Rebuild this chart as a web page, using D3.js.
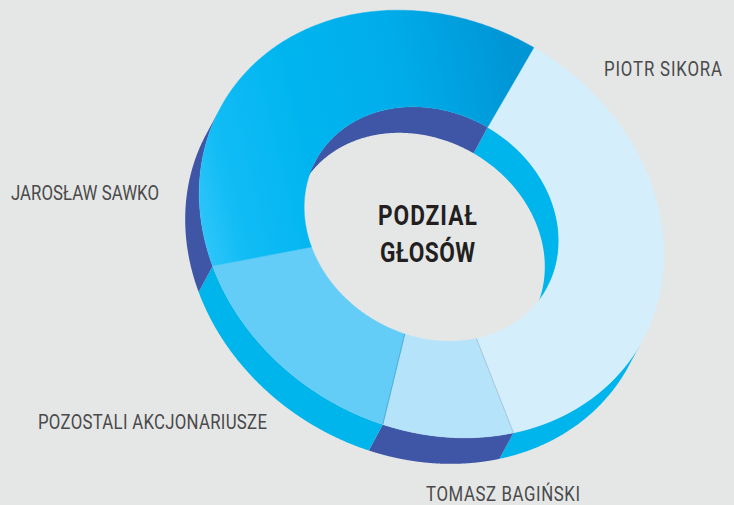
<!DOCTYPE html>
<html><head><meta charset="utf-8">
<script src="https://cdn.jsdelivr.net/npm/d3@7"></script>
<style>html,body{margin:0;padding:0;background:#e5e7e7;overflow:hidden}svg{display:block}
text{font-family:Roboto,sans-serif}</style></head>
<body><svg id="c" width="734" height="505"></svg>
<script>
const categories = ["PIOTR SIKORA","TOMASZ BAGIŃSKI","POZOSTALI AKCJONARIUSZE","JAROSŁAW SAWKO"];
const shares = [37.0, 9.1, 16.2, 37.7];
const faceColors = ["#d4eefb","#b5e4fa","#63cdf7","url(#bigGrad)"];
const wallColors = ["#00b5ec","#3f55a5","#00b5ec","#3f55a5"];
const titleLines = ["PODZIAŁ","GŁOSÓW"];
const labelBoxes = [[604,76,118],[426,501,154],[38,429,229],[11,200,148]];

const W=734,H=505,cx=431.5,cy=224,rotDeg=30,ax=241,ay=204,innerRatio=0.548,squeeze=.84;
const depth=[-14,26];
const svg=d3.select("#c");
svg.append("rect").attr("width",W).attr("height",H).attr("fill","#e5e7e7");
const grad=svg.append("defs").append("linearGradient").attr("id","bigGrad")
  .attr("gradientUnits","userSpaceOnUse").attr("x1",200).attr("y1",220).attr("x2",534).attr("y2",140);
[[0,"#2cc5f9"],[.1,"#12bcf5"],[.35,"#00b5ef"],[.65,"#00adea"],[1,"#0095d5"]]
  .forEach(s=>grad.append("stop").attr("offset",s[0]).attr("stop-color",s[1]));

const start=0.1*Math.PI/180;
const pie=d3.pie().sort(null).startAngle(start).endAngle(start+2*Math.PI);
const arcs=pie(shares);
const rad=rotDeg*Math.PI/180;
function project(t,r,d){
  const u=ax*r*Math.sin(t),v=-ay*r*Math.cos(t);
  return [cx+u*Math.cos(rad)-v*Math.sin(rad)+d*depth[0],cy+u*Math.sin(rad)+v*Math.cos(rad)+d*depth[1]];
}
const line=d3.line();
function samples(a,n){return d3.range(0,n+1).map(i=>a.startAngle+(a.endAngle-a.startAngle)*i/n);}
function facing(t,r){
  const e=1e-3,p=project(t-e,r,0),q=project(t+e,r,0);
  const nx=q[1]-p[1],ny=-(q[0]-p[0]);
  return (nx*depth[0]+ny*depth[1])*(r===1?1:-1)>0;
}
function wall(a,r){
  const ts=samples(a,360).filter(t=>facing(t,r));
  if(ts.length<2) return null;
  return line(ts.map(t=>project(t,r,0)).concat(ts.slice().reverse().map(t=>project(t,r,1))))+"Z";
}
function slicePath(a){
  const ts=samples(a,180);
  return line(ts.map(t=>project(t,1,0)).concat(ts.slice().reverse().map(t=>project(t,innerRatio,0))))+"Z";
}
const walls=svg.append("g");
arcs.forEach((a,i)=>{[1,innerRatio].forEach(r=>{
  const d=wall(a,r); if(d) walls.append("path").attr("d",d).attr("fill",wallColors[i]);
});});
const faces=svg.append("g");
faces.selectAll("path").data(arcs).join("path").attr("d",slicePath)
  .attr("fill",(d,i)=>faceColors[i]).attr("stroke",(d,i)=>faceColors[i]).attr("stroke-width",.4);
[[arcs[0].endAngle,"#9dbccb"],[arcs[1].endAngle,"#3f9cc4"]].forEach(([t,c])=>{
  svg.append("path").attr("d",line([project(t,innerRatio,0),project(t,1,0)])).attr("stroke",c).attr("stroke-width",.7).attr("fill","none");
});

categories.forEach((c,i)=>{
  const b=labelBoxes[i];
  svg.append("text").attr("transform",`translate(${b[0]},${b[1]}) scale(${squeeze},1)`).attr("font-size",20).attr("fill","#4a4a4a")
    .attr("textLength",b[2]/squeeze).attr("lengthAdjust","spacing").text(c);
});
[[378,225,99],[380,262,95]].forEach((b,i)=>{
  svg.append("text").attr("transform",`translate(${b[0]},${b[1]}) scale(${squeeze},1)`).attr("font-size",27).attr("font-weight",700).attr("fill","#231f20")
    .attr("textLength",b[2]/squeeze).attr("lengthAdjust","spacing").text(titleLines[i]);
});
</script></body></html>
